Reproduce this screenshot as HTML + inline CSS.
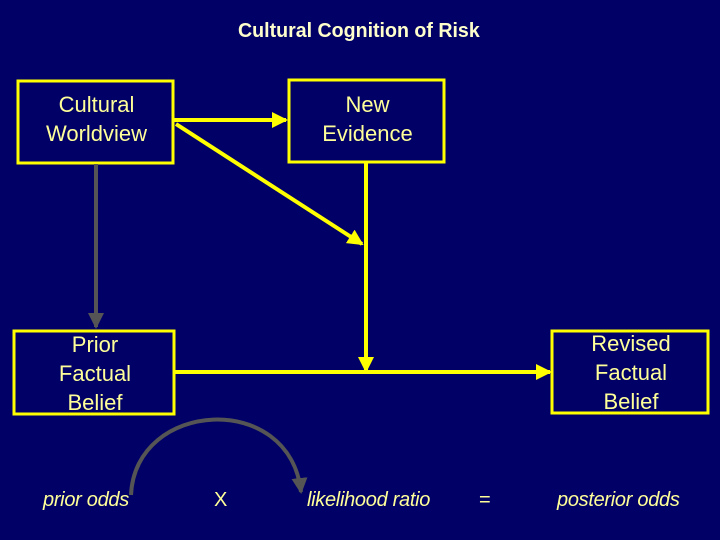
<!DOCTYPE html>
<html><head><meta charset="utf-8"><style>
html,body{margin:0;padding:0}
body{width:720px;height:540px;background:#000066;position:relative;overflow:hidden;font-family:"Liberation Sans",sans-serif}
.t{position:absolute;color:#ffff99;text-align:center;font-size:22px;line-height:29px}
.i{position:absolute;color:#ffff99;font-style:italic;font-size:20px;letter-spacing:-0.3px}
</style></head><body>
<svg width="720" height="540" style="position:absolute;left:0;top:0">
<defs>
<marker id="y" markerWidth="4" markerHeight="4" refX="3.5" refY="2" orient="auto" markerUnits="strokeWidth"><path d="M0,0 L4,2 L0,4z" fill="#ffff00"/></marker>
<marker id="g" markerWidth="4" markerHeight="4" refX="3.5" refY="2" orient="auto" markerUnits="strokeWidth"><path d="M0,0 L4,2 L0,4z" fill="#555"/></marker>
</defs>
<g fill="none" stroke="#ffff00" stroke-width="3">
<rect x="18" y="81" width="155" height="82"/>
<rect x="289" y="80" width="155" height="82"/>
<rect x="14" y="331" width="160" height="83"/>
<rect x="552" y="331" width="156" height="82"/>
</g>
<g stroke="#ffff00" stroke-width="4" fill="none">
<line x1="174" y1="120" x2="286" y2="120" marker-end="url(#y)"/>
<line x1="176" y1="124" x2="362" y2="244" marker-end="url(#y)"/>
<line x1="366" y1="163" x2="366" y2="371" marker-end="url(#y)"/>
<line x1="175" y1="372" x2="550" y2="372" marker-end="url(#y)"/>
</g>
<line x1="96" y1="164" x2="96" y2="327" stroke="#555" stroke-width="4" marker-end="url(#g)"/>
<path d="M131,495 C135,400 290,390 301,492" stroke="#555" stroke-width="4" fill="none" marker-end="url(#g)"/>
</svg>
<div style="position:absolute;left:238px;top:20px;color:#ffffcc;font-weight:bold;font-size:20px;letter-spacing:0px;transform:scaleX(0.98);transform-origin:left">Cultural Cognition of Risk</div>
<div class="t" style="left:18px;width:157px;top:90px">Cultural<br>Worldview</div>
<div class="t" style="left:289px;width:157px;top:90px">New<br>Evidence</div>
<div class="t" style="left:14px;width:162px;top:330px">Prior<br>Factual<br>Belief</div>
<div class="t" style="left:552px;width:158px;top:329px">Revised<br>Factual<br>Belief</div>
<div class="i" style="left:43px;top:489px">prior odds</div>
<div class="i" style="left:214px;top:489px;font-style:normal">X</div>
<div class="i" style="left:307px;top:489px">likelihood ratio</div>
<div class="i" style="left:479px;top:489px;font-style:normal">=</div>
<div class="i" style="left:557px;top:489px">posterior odds</div>
</body></html>
